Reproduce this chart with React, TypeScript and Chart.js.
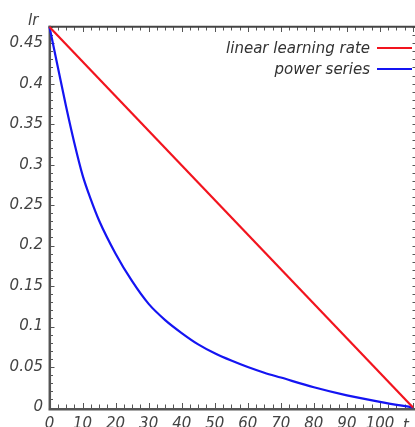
import React, { useEffect, useRef } from 'react';
import { Chart, registerables } from 'chart.js';

Chart.register(...registerables);

// ---- data ----
const linearT = [0, 110];
const linearLR = [0.47, 0];
const powerT = [0, 2.5, 5, 7.5, 10, 12.5, 15, 20, 25, 30, 35, 40, 45, 50, 55, 60, 65, 70, 80, 90, 100, 110];
const powerLR = [0.47, 0.421, 0.372, 0.327, 0.287, 0.257, 0.231, 0.19, 0.156, 0.128, 0.108, 0.092, 0.078, 0.067, 0.058, 0.05, 0.043, 0.037, 0.025, 0.015, 0.007, 0];
const seriesLabels = ['linear learning rate', 'power series'];
const xTickValues = [0, 10, 20, 30, 40, 50, 60, 70, 80, 90, 100];
const xTickLabels = ['0', '10', '20', '30', '40', '50', '60', '70', '80', '90', '100'];
const yTickValues = [0, 0.05, 0.1, 0.15, 0.2, 0.25, 0.3, 0.35, 0.4, 0.45];
const yTickLabels = ['0', '0.05', '0.1', '0.15', '0.2', '0.25', '0.3', '0.35', '0.4', '0.45'];
const xAxisLabel = 't';
const yAxisLabel = 'lr';

const RED = '#f2141e';
const BLUE = '#1414f2';
const FONT = '"DejaVu Sans", sans-serif';
const W = 415;
const H = 427;

const framePlugin = {
  id: 'mmaFrame',
  beforeDatasetsDraw(chart: any) {
    const { ctx, chartArea: a, scales } = chart;
    const xs = scales.x;
    const ys = scales.y;
    ctx.save();
    // ticks
    ctx.strokeStyle = '#555';
    ctx.lineWidth = 1;
    ctx.beginPath();
    for (let i = 0; i <= 44; i++) {
      const v = i * 2.5;
      const major = i % 4 === 0;
      const px = Math.round(xs.getPixelForValue(v)) + 0.5;
      const len = major ? 5 : 3.5;
      ctx.moveTo(px, a.top);
      ctx.lineTo(px, a.top + len);
      ctx.moveTo(px, a.bottom + 0.5);
      ctx.lineTo(px, a.bottom + 0.5 - len);
    }
    for (let i = 0; i <= 47; i++) {
      const v = i * 0.01;
      const major = i % 5 === 0;
      const py = Math.round(ys.getPixelForValue(v)) + 0.5;
      const len = major ? 5 : 3.5;
      ctx.moveTo(a.left, py);
      ctx.lineTo(a.left + len, py);
      ctx.moveTo(W + 1, py);
      ctx.lineTo(W - 2.5, py);
    }
    ctx.stroke();
    // frame
    ctx.strokeStyle = '#444';
    ctx.lineWidth = 2;
    ctx.beginPath();
    ctx.moveTo(a.left - 1, a.top - 0.3);
    ctx.lineTo(W, a.top - 0.3);
    ctx.stroke();
    ctx.strokeStyle = '#555';
    ctx.lineWidth = 2.5;
    ctx.beginPath();
    ctx.moveTo(a.left + 0.3, a.top - 1.3);
    ctx.lineTo(a.left + 0.3, a.bottom + 3);
    ctx.moveTo(a.left - 1, a.bottom + 1.7);
    ctx.lineTo(W, a.bottom + 1.7);
    ctx.stroke();
    ctx.restore();
  },
  afterDraw(chart: any) {
    const { ctx } = chart;
    ctx.save();
    ctx.font = `italic 15px ${FONT}`;
    ctx.textBaseline = 'alphabetic';
    ctx.fillStyle = '#444';
    ctx.textAlign = 'left';
    ctx.fillText(yAxisLabel, 28, 25);
    ctx.fillText(xAxisLabel, 403, 430);
    // legend
    ctx.fillStyle = '#333';
    ctx.textAlign = 'right';
    chart.data.datasets.forEach((ds: any, i: number) => {
      const base = 53.3 + i * 21;
      const ly = 48 + i * 21;
      ctx.fillText(ds.label, 370, base);
      ctx.strokeStyle = ds.borderColor;
      ctx.lineWidth = 2;
      ctx.beginPath();
      ctx.moveTo(377, ly);
      ctx.lineTo(412, ly);
      ctx.stroke();
    });
    ctx.restore();
  },
};

export default function App() {
  const ref = useRef<HTMLCanvasElement | null>(null);
  useEffect(() => {
    if (!ref.current) return;
    const tickFont = { family: FONT, size: 15, style: 'italic' as const };
    const chart = new Chart(ref.current, {
      type: 'line',
      data: {
        datasets: [
          {
            label: seriesLabels[0],
            data: linearT.map((t, i) => ({ x: t, y: linearLR[i] })),
            borderColor: RED,
            backgroundColor: RED,
            borderWidth: 2.2,
            pointRadius: 0,
            clip: false as any,
          },
          {
            label: seriesLabels[1],
            data: powerT.map((t, i) => ({ x: t, y: powerLR[i] })),
            borderColor: BLUE,
            backgroundColor: BLUE,
            borderWidth: 2.2,
            pointRadius: 0,
            cubicInterpolationMode: 'monotone',
            clip: false as any,
          },
        ],
      },
      options: {
        animation: false,
        responsive: false,
        devicePixelRatio: 1,
        layout: { padding: { top: 27, right: 2, left: 0, bottom: 0 } },
        plugins: { legend: { display: false }, tooltip: { enabled: false } },
        scales: {
          x: {
            type: 'linear',
            min: 0,
            max: 110,
            grid: { display: false, drawTicks: false },
            border: { display: false },
            afterBuildTicks: (s: any) => {
              s.ticks = xTickValues.map((v) => ({ value: v }));
            },
            afterFit: (s: any) => {
              s.height = H - 407.5;
            },
            ticks: {
              autoSkip: false,
              maxRotation: 0,
              padding: 8,
              color: '#444',
              font: tickFont,
              callback: (_v: any, i: number) => xTickLabels[i],
            },
          },
          y: {
            type: 'linear',
            min: 0,
            max: 0.47,
            grid: { display: false, drawTicks: false },
            border: { display: false },
            afterBuildTicks: (s: any) => {
              s.ticks = yTickValues.map((v) => ({ value: v }));
            },
            afterFit: (s: any) => {
              s.width = 49.5;
            },
            ticks: {
              autoSkip: false,
              padding: 6.5,
              color: '#444',
              font: tickFont,
              callback: (_v: any, i: number) => yTickLabels[i],
            },
          },
        },
      },
      plugins: [framePlugin],
    } as any);
    return () => chart.destroy();
  }, []);
  return (
    <div style={{ position: 'fixed', left: 0, top: 0, width: W, height: H, background: '#fff' }}>
      <canvas ref={ref} width={W} height={H} style={{ display: 'block', width: W, height: H }} />
    </div>
  );
}
